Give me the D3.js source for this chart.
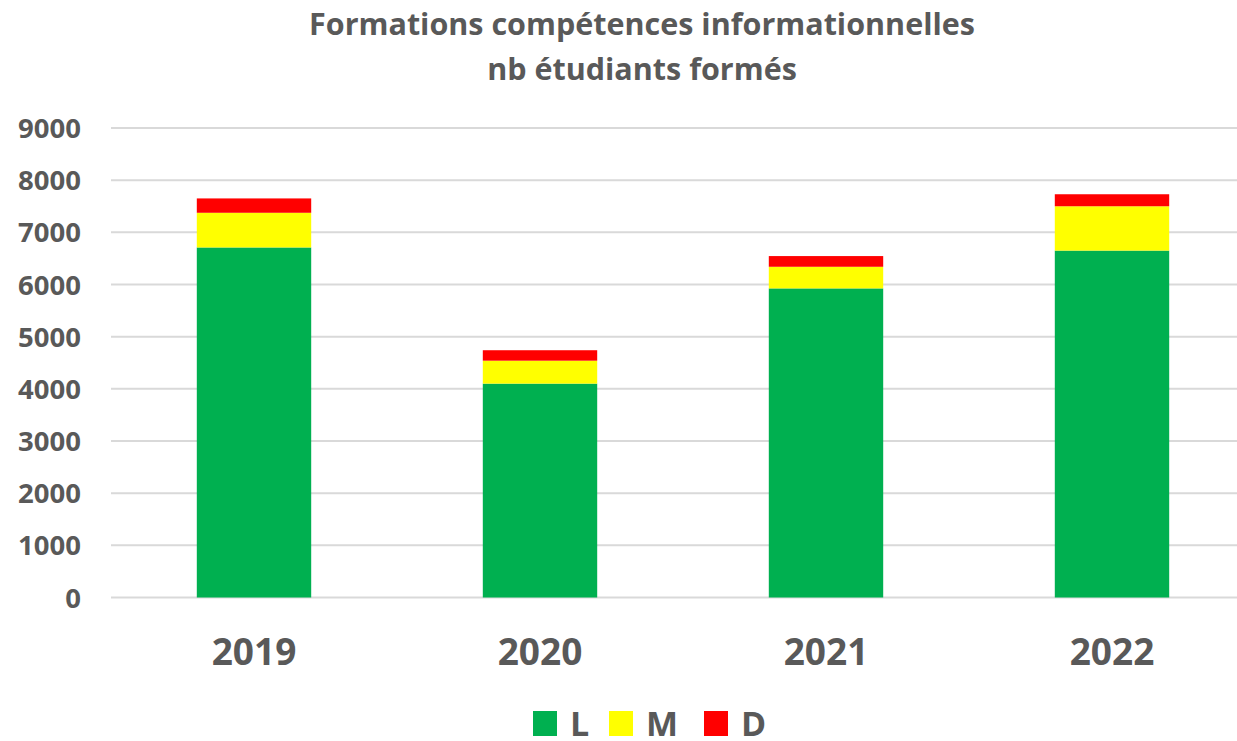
<!DOCTYPE html>
<html>
  <head>
    <meta charset="utf-8">
    <title>Formations compétences informationnelles</title>
    <script src="https://cdn.jsdelivr.net/npm/d3@7"></script>
    <style>
      body { margin: 0; background: #fff; }
      text { font-family: "Open Sans", sans-serif; font-weight: bold; fill: #595959; }
    </style>
  </head>
  <body>
    <svg id="chart" width="1237" height="741"></svg>
    <script>
      // data
      var years = ["2019", "2020", "2021", "2022"];
      var licence = [6710, 4100, 5925, 6650];
      var master = [665, 440, 415, 850];
      var doctorat = [275, 200, 205, 230];
      var seriesNames = ["L", "M", "D"];
      var colours = ["#00B050", "#FFFF00", "#FF0000"];
      var yTicks = [0, 1000, 2000, 3000, 4000, 5000, 6000, 7000, 8000, 9000];

      var rows = years.map(function(y, i) {
        return { year: y, L: licence[i], M: master[i], D: doctorat[i] };
      });

      var svg = d3.select("#chart");
      var margin = { top: 128, bottom: 597.5, left: 111, right: 1255 };

      var x = d3.scaleBand()
        .domain(years)
        .range([margin.left, margin.right])
        .paddingInner(0.6)
        .paddingOuter(0.3);
      var y = d3.scaleLinear()
        .domain([0, 9000])
        .range([margin.bottom, margin.top]);
      var colour = d3.scaleOrdinal().domain(seriesNames).range(colours);

      // gridlines
      svg.append("g")
        .selectAll("line")
          .data(yTicks)
        .enter().append("line")
          .attr("x1", margin.left)
          .attr("x2", 1237)
          .attr("y1", function(d) { return y(d); })
          .attr("y2", function(d) { return y(d); })
          .attr("stroke", "#D9D9D9")
          .attr("stroke-width", 2);

      // y axis labels
      var yAxis = d3.axisLeft(y).tickValues(yTicks).tickFormat(d3.format("d")).tickSize(0).tickPadding(0);
      var yg = svg.append("g")
        .attr("transform", "translate(81,0)")
        .call(yAxis);
      yg.select(".domain").remove();
      yg.selectAll("text")
        .attr("font-family", null)
        .style("font-size", "27.5px")
        .attr("dy", "0.35em");

      // stacked bars
      var stack = d3.stack().keys(seriesNames);
      svg.append("g")
        .selectAll("g")
          .data(stack(rows))
        .enter().append("g")
          .attr("fill", function(d) { return colour(d.key); })
        .selectAll("rect")
          .data(function(d) { return d; })
        .enter().append("rect")
          .attr("x", function(d) { return x(d.data.year); })
          .attr("width", x.bandwidth())
          .attr("y", function(d) { return y(d[1]); })
          .attr("height", function(d) { return y(d[0]) - y(d[1]); });

      // x axis labels
      var xAxis = d3.axisBottom(x).tickSize(0).tickPadding(0);
      var xg = svg.append("g")
        .attr("transform", "translate(0,652)")
        .call(xAxis);
      xg.select(".domain").remove();
      xg.selectAll("text")
        .attr("font-family", null)
        .attr("y", 0)
        .attr("dy", "0.35em")
        .style("font-size", "37px");

      // title
      svg.append("text")
        .attr("x", 642)
        .attr("y", 35)
        .attr("text-anchor", "middle")
        .style("font-size", "30.5px")
        .text("Formations compétences informationnelles");
      svg.append("text")
        .attr("x", 642)
        .attr("y", 80)
        .attr("text-anchor", "middle")
        .style("font-size", "30.5px")
        .text("nb étudiants formés");

      // legend
      var legendX = [533, 609, 704];
      var legend = svg.append("g")
        .selectAll("g")
          .data(seriesNames)
        .enter().append("g")
          .attr("transform", function(d, i) { return "translate(" + legendX[i] + ",711)"; });
      legend.append("rect")
        .attr("width", 24)
        .attr("height", 25)
        .attr("fill", function(d) { return colour(d); });
      legend.append("text")
        .attr("x", 37)
        .attr("y", 25)
        .style("font-size", "34px")
        .text(function(d) { return d; });
    </script>
  </body>
</html>
